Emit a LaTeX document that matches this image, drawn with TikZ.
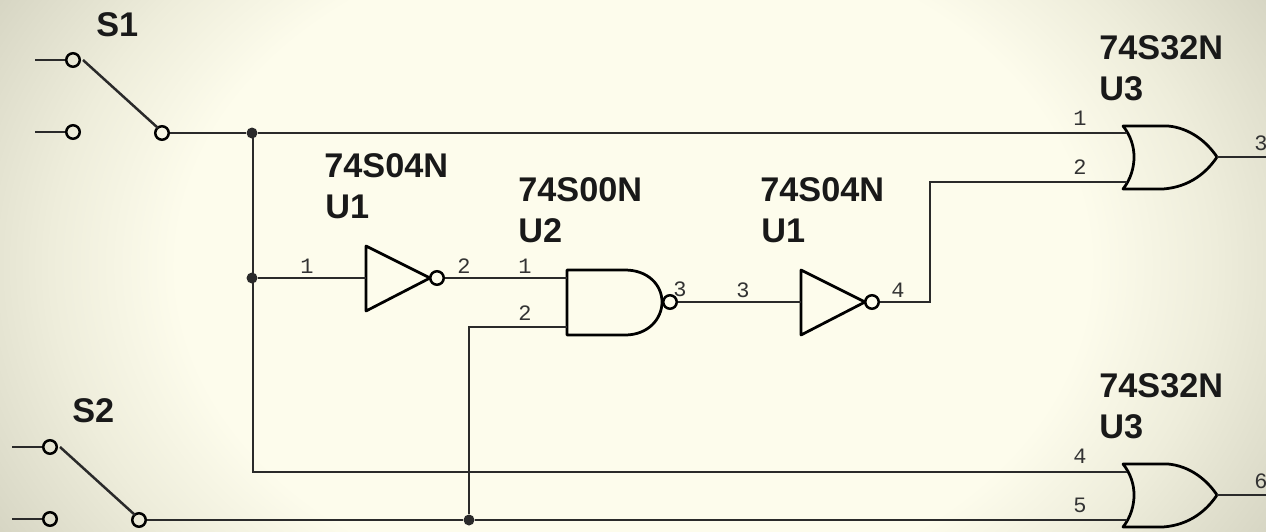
\documentclass[tikz,border=0pt]{standalone}
\usepackage{fontspec}
\setmainfont{Liberation Sans}
\newfontfamily\pinfont{Liberation Mono}
\usetikzlibrary{positioning}

\definecolor{paper}{HTML}{FDFCEC}
\definecolor{papermid}{HTML}{EEEDDB}
\definecolor{paperdark}{HTML}{D6D5C3}
\definecolor{wire}{HTML}{2A2A2A}
\pgfdeclareradialshading{panel}{\pgfpoint{0bp}{0bp}}{color(0bp)=(paper); color(18bp)=(paper); color(23bp)=(papermid); color(29bp)=(paperdark); color(50bp)=(paperdark)}

\begin{document}
\begin{tikzpicture}[
		x=0.02cm,y=-0.02cm,
		line/.style={draw=wire,line width=0.05cm},
		gate/.style={draw=black,line width=0.055cm,line join=round},
		ring/.style={circle,draw=black,line width=0.05cm,minimum size=0.27cm,inner sep=0pt},
		dot/.style={circle,fill=wire,minimum size=0.22cm,inner sep=0pt},
		part/.style={anchor=west,inner sep=0pt,text=black!90,font=\fontsize{19.5}{20}\selectfont\bfseries},
		pin/.style={inner sep=0pt,text=black!80,font=\fontsize{12.5}{13}\selectfont\pinfont}]
		
		%background
		\useasboundingbox (0,0) rectangle (1266,531);
		\clip (0,0) rectangle (1266,531);
		\shade[shading=panel] (0,-200) rectangle (1266,731);
		
		%switches
		\foreach \name/\x/\y in {one/73/60, two/50/447}
		{
			\node[ring] (\name up) at (\x,\y) {};
			\node[ring] (\name low) at (\x,\y+72) {};
			\node[ring] (\name com) at (\x+89,\y+73) {};
			\coordinate (\name upend) at (\x-38,\y);
			\coordinate (\name lowend) at (\x-38,\y+72);
			\coordinate (\name armtop) at (\x+10,\y);
			\coordinate (\name armlow) at (\x+85,\y+68);
			\draw[line] (\name upend) -- (\name up);
			\draw[line] (\name lowend) -- (\name low);
			\draw[line] (\name armtop) -- (\name armlow);
		}
		
		%inverters
		\foreach \name/\x/\y in {invone/366/278, invtwo/801/302}
		{
			\draw[gate] (\x,\y-32) -- (\x,\y+33) -- (\x+64,\y) -- cycle;
			\coordinate (\name in) at (\x,\y);
			\node[ring] (\name out) at (\x+71,\y) {};
		}
		
		%nand
		\draw[gate] (625,270) -- (567,270) -- (567,335) -- (625,335) .. controls (648,335) and (662,319) .. (662,302) .. controls (662,285) and (648,270) .. (625,270);
		\coordinate (nanda) at (567,278);
		\coordinate (nandb) at (567,327);
		\node[ring] (nandout) at (670,302) {};
		
		%or gates
		\foreach \name/\y/\a/\b in {orone/157/133/182, ortwo/495/472/520}
		{
			\draw[gate] (1123,\y-31) -- (1168,\y-31) .. controls (1190,\y-29) and (1207,\y-15) .. (1217,\y) .. controls (1207,\y+15) and (1190,\y+30) .. (1163,\y+32) -- (1123,\y+32) .. controls (1131,\y+22) and (1134,\y+10) .. (1134,\y) .. controls (1134,\y-10) and (1131,\y-21) .. (1123,\y-31) -- cycle;
			\coordinate (\name a) at (1127,\a);
			\coordinate (\name b) at (1127,\b);
			\coordinate (\name c) at (1217,\y);
			\coordinate (\name end) at (1266,\y);
			\draw[line] (\name c) -- (\name end);
		}
		
		%wires
		\node[dot] (dota) at (252,133) {};
		\node[dot] (dotb) at (252,278) {};
		\node[dot] (dotc) at (469,520) {};
		\coordinate (cornera) at (253,133);
		\coordinate (cornerb) at (253,472);
		\coordinate (cornerc) at (469,327);
		\coordinate (cornerd) at (930,302);
		\coordinate (cornere) at (930,182);
		\draw[line] (onecom) -- (dota) -- (oronea);
		\draw[line] (cornera) -- (cornerb) -- (ortwoa);
		\draw[line] (dotb) -- (invonein);
		\draw[line] (invoneout) -- (nanda);
		\draw[line] (nandb) -- (cornerc) -- (dotc);
		\draw[line] (twocom) -- (dotc) -- (ortwob);
		\draw[line] (nandout) -- (invtwoin);
		\draw[line] (invtwoout) -- (cornerd) -- (cornere) -- (oroneb);
		
		%part names
		\foreach \text/\x/\y in {74S04N/324/166, U1/325/207, 74S00N/518/190, U2/518/231, 74S04N/760/190, U1/761/231, 74S32N/1099/48, U3/1099/89, 74S32N/1099/386, U3/1099/427, S1/96/25, S2/72/411}
		\node[part] at (\x,\y) {\text};
		
		%pin numbers
		\foreach \text/\x/\y in {1/307/266, 2/464/266, 1/525/266, 2/525/313, 3/680/289, 3/743/290, 4/898/290, 1/1080/118, 2/1080/167, 4/1080/456, 5/1080/505, 3/1261/143, 6/1261/481}
		\node[pin] at (\x,\y) {\text};
		
\end{tikzpicture}
\end{document}
